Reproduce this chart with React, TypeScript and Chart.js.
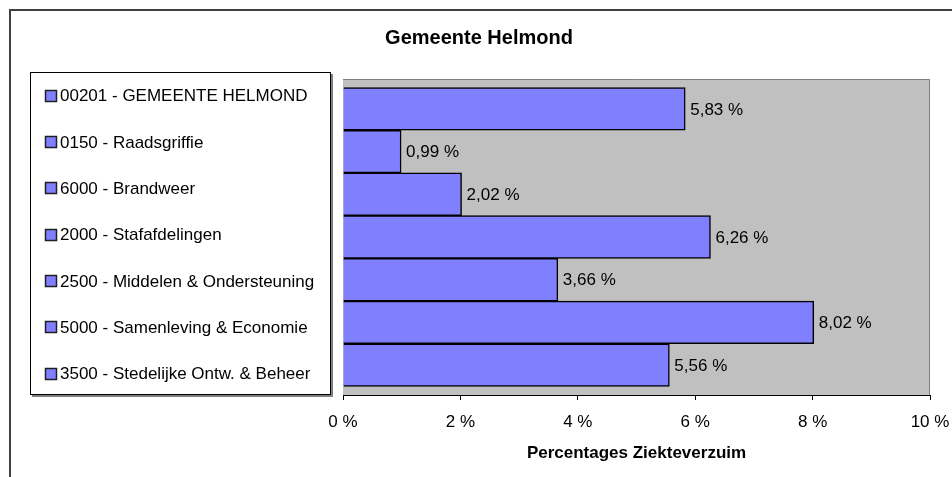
import React, { useEffect, useRef } from 'react';
import { Chart, registerables } from 'chart.js';

Chart.register(...registerables);

const categories = [
  '00201 - GEMEENTE HELMOND',
  '0150 - Raadsgriffie',
  '6000 - Brandweer',
  '2000 - Stafafdelingen',
  '2500 - Middelen & Ondersteuning',
  '5000 - Samenleving & Economie',
  '3500 - Stedelijke Ontw. & Beheer',
];
const values = [5.83, 0.99, 2.02, 6.26, 3.66, 8.02, 5.56];
const xMin = 0;
const xMax = 10;
const xStep = 2;
const chartTitle = 'Gemeente Helmond';
const axisTitle = 'Percentages Ziekteverzuim';

const FONT = '"Liberation Sans", Arial, sans-serif';
const BAR_COLOR = '#8080FF';

const fmt = (v: number) => v.toFixed(2).replace('.', ',') + ' %';

const decorPlugin = {
  id: 'decor',
  beforeDraw(chart: any) {
    const ctx = chart.ctx;
    const W = chart.width;
    const H = chart.height;
    ctx.save();
    ctx.fillStyle = '#ffffff';
    ctx.fillRect(0, 0, W, H);
    // outer frame
    ctx.strokeStyle = '#404040';
    ctx.lineWidth = 2;
    ctx.beginPath();
    ctx.moveTo(10, H);
    ctx.lineTo(10, 10);
    ctx.lineTo(W, 10);
    ctx.stroke();
    // plot area
    const { left, top, right, bottom } = chart.chartArea;
    ctx.fillStyle = '#C0C0C0';
    ctx.fillRect(left, top, right - left, bottom - top);
    ctx.strokeStyle = '#808080';
    ctx.lineWidth = 1;
    ctx.beginPath();
    ctx.moveTo(left, top + 0.5);
    ctx.lineTo(right - 0.5, top + 0.5);
    ctx.lineTo(right - 0.5, bottom);
    ctx.stroke();
    // title
    ctx.fillStyle = '#000';
    ctx.font = `bold 20px ${FONT}`;
    ctx.textAlign = 'center';
    ctx.textBaseline = 'alphabetic';
    ctx.fillText(chartTitle, 479, 44);
    // legend box
    const lx = 30, ly = 72, lw = 301, lh = 323;
    ctx.fillStyle = '#808080';
    ctx.fillRect(lx + 2, ly + lh, lw, 2);
    ctx.fillRect(lx + lw, ly + 2, 2, lh);
    ctx.fillStyle = '#ffffff';
    ctx.fillRect(lx, ly, lw, lh);
    ctx.strokeStyle = '#000';
    ctx.lineWidth = 1;
    ctx.strokeRect(lx + 0.5, ly + 0.5, lw - 1, lh - 1);
    const first = 95.5;
    const stepY = (373.5 - 95.5) / (categories.length - 1);
    ctx.font = `17px ${FONT}`;
    ctx.textAlign = 'left';
    ctx.textBaseline = 'middle';
    categories.forEach((c, i) => {
      const cy = first + i * stepY;
      const sy = Math.round(cy - 5);
      ctx.fillStyle = BAR_COLOR;
      ctx.fillRect(46, sy, 10, 10);
      ctx.strokeStyle = '#202020';
      ctx.lineWidth = 1.5;
      ctx.strokeRect(45.5, sy - 0.5, 11, 11);
      ctx.fillStyle = '#000';
      ctx.fillText(c, 60, cy + 1);
    });
    ctx.restore();
  },
  afterDatasetsDraw(chart: any) {
    const ctx = chart.ctx;
    const meta = chart.getDatasetMeta(0);
    ctx.save();
    ctx.font = `17px ${FONT}`;
    ctx.fillStyle = '#000';
    ctx.textAlign = 'left';
    ctx.textBaseline = 'middle';
    meta.data.forEach((el: any, i: number) => {
      ctx.fillText(fmt(values[i]), el.x + 5, el.y + 1);
    });
    ctx.restore();
  },
};

export default function App() {
  const ref = useRef<HTMLCanvasElement>(null);
  useEffect(() => {
    if (!ref.current) return;
    const chart = new Chart(ref.current, {
      type: 'bar',
      data: {
        datasets: [
          {
            data: values.map((v, i) => ({ x: v, y: i })),
            backgroundColor: BAR_COLOR,
            borderColor: '#000',
            borderWidth: 1.5,
            barPercentage: 1,
            categoryPercentage: 1,
          },
        ],
      },
      options: {
        indexAxis: 'y',
        responsive: false,
        devicePixelRatio: 1,
        animation: false,
        layout: { padding: { left: 343, top: 79, right: 22, bottom: 0 } },
        plugins: { legend: { display: false }, title: { display: false }, tooltip: { enabled: false } },
        scales: {
          y: {
            type: 'linear',
            display: false,
            offset: false,
            min: -0.7,
            max: categories.length - 0.3,
            reverse: true,
            ticks: { stepSize: 1, includeBounds: false },
          },
          x: {
            type: 'linear',
            min: xMin,
            max: xMax,
            afterFit: (scale: any) => {
              scale.height = 82;
              scale.paddingLeft = 0;
              scale.paddingRight = 0;
            },
            ticks: {
              stepSize: xStep,
              padding: 12,
              color: '#000',
              font: { family: FONT, size: 17 },
              callback: (v: any) => `${v} %`,
              maxRotation: 0,
            },
            grid: { drawOnChartArea: false, drawTicks: true, tickLength: 5, tickColor: '#000' },
            border: { display: true, color: '#000', width: 1 },
            title: {
              display: true,
              text: axisTitle,
              color: '#000',
              font: { family: FONT, size: 17, weight: 'bold' },
              padding: { top: 0, bottom: 13 },
            },
          },
        },
      },
      plugins: [decorPlugin],
    } as any);
    return () => chart.destroy();
  }, []);
  return (
    <div style={{ position: 'fixed', left: 0, top: 0, width: 952, height: 477 }}>
      <canvas ref={ref} width={952} height={477} />
    </div>
  );
}
